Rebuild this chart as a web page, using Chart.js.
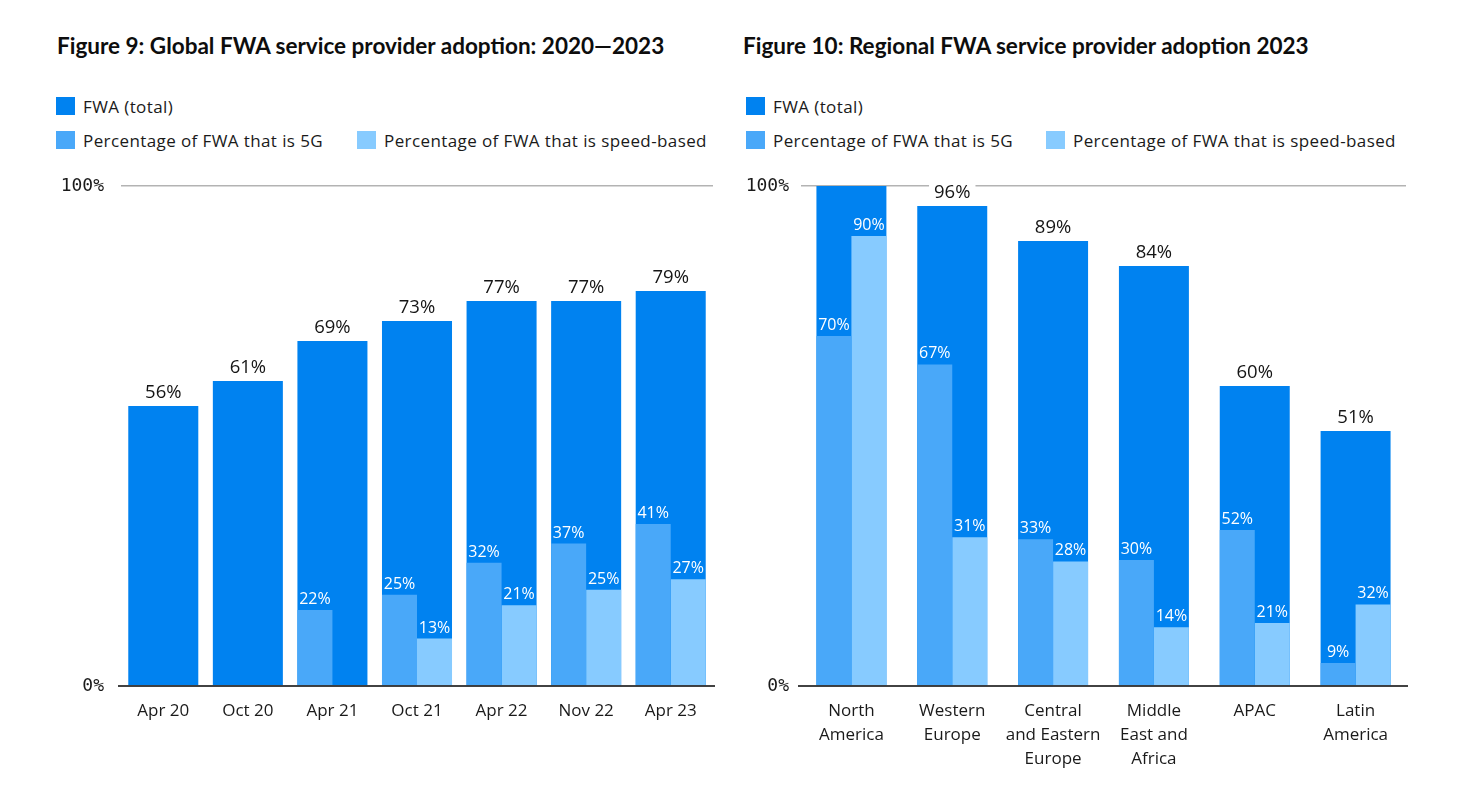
<!DOCTYPE html>
<html>
<head>
<meta charset="utf-8">
<script src="https://cdn.jsdelivr.net/npm/chart.js@4.4.1/dist/chart.umd.min.js"></script>
<style>
  html, body { margin: 0; padding: 0; background: #ffffff; }
  body { width: 1482px; height: 789px; position: relative; overflow: hidden; font-family: "Open Sans", sans-serif; color: #151515; }
  .title { position: absolute; top: 30px; font-family: Lato, sans-serif; font-weight: 700; font-size: 22.5px; line-height: 32px; white-space: nowrap; color: #0d0d0d; }
  .legend-item { position: absolute; height: 18px; display: flex; align-items: center; font-size: 17px; letter-spacing: 0.4px; white-space: nowrap; color: #1a1a1a; }
  .legend-item .sw { width: 19px; height: 18px; margin-right: 8px; flex: none; }
  .chartbox { position: absolute; top: 150px; width: 741px; height: 639px; }
</style>
</head>
<body>
<div class="title" style="left:57px">Figure 9: Global FWA service provider adoption: 2020—2023</div>
<div class="title" style="left:743px">Figure 10: Regional FWA service provider adoption 2023</div>

<div class="legend-item" style="left:56px;top:97px"><span class="sw" style="background:#0082F0"></span>FWA (total)</div>
<div class="legend-item" style="left:56px;top:131px"><span class="sw" style="background:#49A8F9"></span>Percentage of FWA that is 5G</div>
<div class="legend-item" style="left:357px;top:131px"><span class="sw" style="background:#87CBFF"></span>Percentage of FWA that is speed-based</div>

<div class="legend-item" style="left:746px;top:97px"><span class="sw" style="background:#0082F0"></span>FWA (total)</div>
<div class="legend-item" style="left:746px;top:131px"><span class="sw" style="background:#49A8F9"></span>Percentage of FWA that is 5G</div>
<div class="legend-item" style="left:1046px;top:131px"><span class="sw" style="background:#87CBFF"></span>Percentage of FWA that is speed-based</div>

<div class="chartbox" style="left:0px"><canvas id="c1"></canvas></div>
<div class="chartbox" style="left:741px"><canvas id="c2"></canvas></div>

<script>
// ---- Data: Figure 9 (global) ----
const categoriesGlobal = ['Apr 20', 'Oct 20', 'Apr 21', 'Oct 21', 'Apr 22', 'Nov 22', 'Apr 23'];
const fwaTotalGlobal = [56, 61, 69, 73, 77, 77, 79];
const share5GGlobal = [null, null, 22, 25, 32, 37, 41];
const shareSpeedGlobal = [null, null, null, 13, 21, 25, 27];

// ---- Data: Figure 10 (regional) ----
const categoriesRegional = [['North', 'America'], ['Western', 'Europe'], ['Central', 'and Eastern', 'Europe'], ['Middle', 'East and', 'Africa'], 'APAC', ['Latin', 'America']];
const fwaTotalRegional = [100, 96, 89, 84, 60, 51];
const share5GRegional = [70, 67, 33, 30, 52, 9];
const shareSpeedRegional = [90, 31, 28, 14, 21, 32];

// y axis tick values
const yTickValues = [0, 100];

const COL_TOTAL = '#0082F0';
const COL_5G = '#49A8F9';
const COL_SPEED = '#87CBFF';

function makeChart(id, categories, totals, share5G, shareSpeed, geo) {
  // sub-bars are drawn as a share of the FWA total bar
  const h5G = share5G.map((v, i) => v == null ? null : v * totals[i] / 100);
  const hSpeed = shareSpeed.map((v, i) => v == null ? null : v * totals[i] / 100);

  const labelPlugin = {
    id: 'labels_' + id,
    afterDatasetsDraw(chart) {
      const ctx = chart.ctx;
      const area = chart.chartArea;
      const yScale = chart.scales.y;
      ctx.save();
      // zero axis line over bars
      const y0 = yScale.getPixelForValue(0);
      ctx.strokeStyle = 'rgba(45,45,45,0.9)';
      ctx.lineWidth = 2;
      ctx.beginPath();
      ctx.moveTo(area.left - 3, y0);
      ctx.lineTo(area.right + 2, y0);
      ctx.stroke();

      // total labels
      const mTot = chart.getDatasetMeta(0);
      ctx.font = '18.5px "Open Sans", sans-serif';
      ctx.textAlign = 'center';
      ctx.textBaseline = 'alphabetic';
      mTot.data.forEach((bar, i) => {
        const v = totals[i];
        if (v == null || v >= 100) return;
        const txt = v + '%';
        const w = ctx.measureText(txt).width;
        ctx.fillStyle = '#ffffff';
        ctx.fillRect(bar.x - w / 2 - 5, bar.y - 27, w + 10, 24);
        ctx.fillStyle = '#151515';
        ctx.fillText(txt, bar.x, bar.y - 8);
      });
      // sub-bar labels
      ctx.font = '16px "Open Sans", sans-serif';
      ctx.fillStyle = '#ffffff';
      [[1, share5G], [2, shareSpeed]].forEach(([di, vals]) => {
        const meta = chart.getDatasetMeta(di);
        meta.data.forEach((bar, i) => {
          const v = vals[i];
          if (v == null) return;
          ctx.fillText(v + '%', bar.x, bar.y - 6);
        });
      });
      ctx.restore();
    }
  };

  return new Chart(document.getElementById(id), {
    type: 'bar',
    data: {
      labels: categories,
      datasets: [
        { label: 'FWA (total)', data: totals, backgroundColor: COL_TOTAL, order: 3, grouped: false,
          categoryPercentage: geo.cp, barPercentage: 1 },
        { label: 'Percentage of FWA that is 5G', data: h5G, backgroundColor: COL_5G, order: 1,
          categoryPercentage: geo.cp, barPercentage: 1 },
        { label: 'Percentage of FWA that is speed-based', data: hSpeed, backgroundColor: COL_SPEED, order: 2,
          categoryPercentage: geo.cp, barPercentage: 1 }
      ]
    },
    options: {
      responsive: true,
      maintainAspectRatio: false,
      animation: false,
      events: [],
      layout: { padding: { top: 36, right: geo.padRight, bottom: 3, left: 0 } },
      plugins: { legend: { display: false }, tooltip: { enabled: false }, title: { display: false } },
      scales: {
        x: {
          type: 'category',
          offset: true,
          grid: { display: false, drawTicks: false },
          border: { display: false },
          ticks: {
            autoSkip: false, maxRotation: 0, minRotation: 0, padding: 13,
            color: '#1a1a1a',
            font: { family: '"Open Sans", sans-serif', size: 17, lineHeight: 1.42 }
          },
          afterFit(scale) { scale.height = 100; }
        },
        y: {
          min: 0, max: 100,
          afterBuildTicks(scale) { scale.ticks = yTickValues.map(v => ({ value: v })); },
          grid: {
            drawTicks: false,
            color: (c) => c.tick && c.tick.value === 100 ? '#b3b3b3' : 'rgba(0,0,0,0)',
            lineWidth: 1.5
          },
          border: { display: false },
          ticks: {
            padding: geo.yPad,
            color: '#1a1a1a',
            font: { family: '"DejaVu Sans Mono", monospace', size: 18 },
            callback: (v) => v + '%'
          },
          afterFit(scale) { scale.width = geo.yWidth; }
        }
      }
    },
    plugins: [labelPlugin]
  });
}

makeChart('c1', categoriesGlobal, fwaTotalGlobal, share5GGlobal, shareSpeedGlobal,
  { cp: 0.828, padRight: 28, yWidth: 121, yPad: 17 });
makeChart('c2', categoriesRegional, fwaTotalRegional, share5GRegional, shareSpeedRegional,
  { cp: 0.694, padRight: 76, yWidth: 60, yPad: 12 });
</script>
</body>
</html>
